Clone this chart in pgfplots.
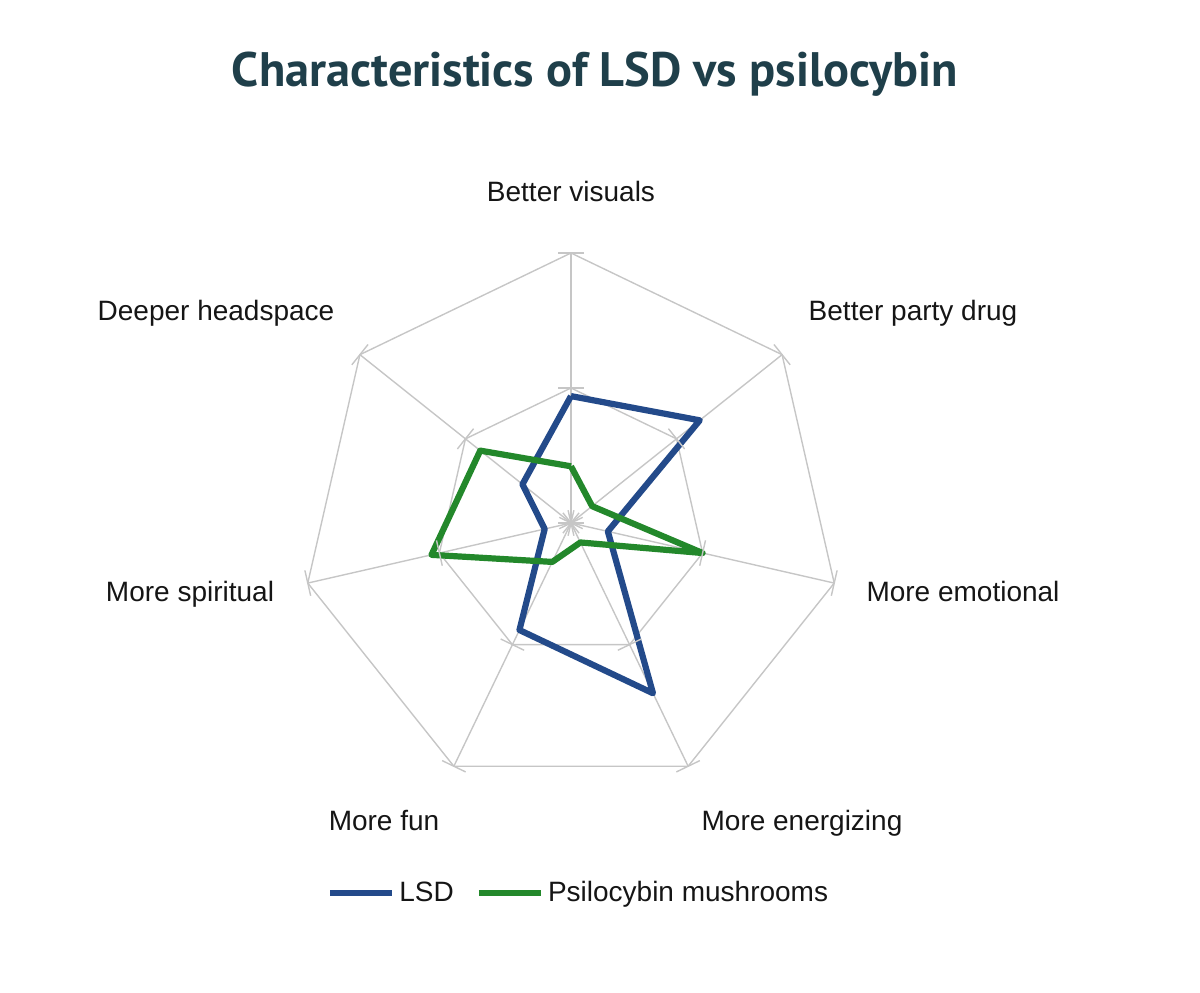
\documentclass[border=0pt]{standalone}
\usepackage{pgfplots}
\pgfplotsset{compat=1.18}
\usepgfplotslibrary{polar}
\usepackage{fontspec}
\setmainfont{Liberation Sans}
\newfontfamily\titlefont{PT Sans}
\definecolor{lsd}{HTML}{234A8A}
\definecolor{psi}{HTML}{23882B}
\definecolor{gridc}{HTML}{C6C6C6}
\definecolor{titlec}{HTML}{1F3F4A}
\definecolor{labc}{HTML}{151515}
\newcommand{\lab}{\fontsize{14}{17}\selectfont}
\begin{document}
\begin{tikzpicture}
\useasboundingbox (0,0) rectangle (600pt,496pt);
\begin{polaraxis}[
  at={(285.5pt,234.5pt)}, anchor=center,
  scale only axis, width=270pt, height=270pt,
  xmin=0, xmax=360, ymin=0, ymax=100,
  hide axis, clip=false,
  legend style={at={(0.516,-0.185)}, anchor=center, draw=none, fill=none,
    font=\lab, text=labc, legend columns=-1,
    /tikz/every even column/.append style={column sep=9pt}},
  legend image code/.code={\draw[#1] (0pt,0pt) -- (31pt,0pt);},
  gridl/.style={draw=gridc, line width=0.7pt, forget plot},
  tk/.style={gridc, line width=0.7pt, only marks, mark=|, mark size=6.5pt, forget plot},
]
% grid heptagons
\addplot[gridl] coordinates {(90,100) (38.571,100) (-12.857,100) (-64.286,100) (-115.714,100) (-167.143,100) (141.429,100) (90,100)};
\addplot[gridl] coordinates {(90,50) (38.571,50) (-12.857,50) (-64.286,50) (-115.714,50) (-167.143,50) (141.429,50) (90,50)};
% spokes
\addplot[gridl] coordinates {(90,0) (90,100)};
\addplot[gridl] coordinates {(38.571,0) (38.571,100)};
\addplot[gridl] coordinates {(-12.857,0) (-12.857,100)};
\addplot[gridl] coordinates {(-64.286,0) (-64.286,100)};
\addplot[gridl] coordinates {(-115.714,0) (-115.714,100)};
\addplot[gridl] coordinates {(-167.143,0) (-167.143,100)};
\addplot[gridl] coordinates {(141.429,0) (141.429,100)};
% tick marks
\addplot[tk, mark options={rotate=90}] coordinates {(90,0) (90,50) (90,100)};
\addplot[tk, mark options={rotate=38.571}] coordinates {(38.571,0) (38.571,50) (38.571,100)};
\addplot[tk, mark options={rotate=-12.857}] coordinates {(-12.857,0) (-12.857,50) (-12.857,100)};
\addplot[tk, mark options={rotate=-64.286}] coordinates {(-64.286,0) (-64.286,50) (-64.286,100)};
\addplot[tk, mark options={rotate=-115.714}] coordinates {(-115.714,0) (-115.714,50) (-115.714,100)};
\addplot[tk, mark options={rotate=-167.143}] coordinates {(-167.143,0) (-167.143,50) (-167.143,100)};
\addplot[tk, mark options={rotate=141.429}] coordinates {(141.429,0) (141.429,50) (141.429,100)};
% LSD
\addplot[draw=lsd, line width=3.1pt, line join=round, no markers] coordinates {
  (90,47) (38.571,61) (-12.857,14) (-64.286,70) (-115.714,44) (-167.143,10) (141.429,23) (90,47)};
\addlegendentry{LSD}
% Psilocybin
\addplot[draw=psi, line width=3.1pt, line join=round, no markers] coordinates {
  (90,21) (38.571,10) (-12.857,50) (-64.286,8) (-115.714,16) (-167.143,53) (141.429,43) (90,21)};
\addlegendentry{Psilocybin mushrooms}
\end{polaraxis}
\begin{scope}[every node/.style={font=\lab, text=labc, inner sep=0pt, anchor=base}]
\node at (285.5pt,395pt) {Better visuals};
\node at (456.5pt,335.6pt) {Better party drug};
\node at (481.5pt,195pt) {More emotional};
\node at (401pt,81pt) {More energizing};
\node at (192pt,81pt) {More fun};
\node at (95pt,195pt) {More spiritual};
\node at (108pt,335.6pt) {Deeper headspace};
\end{scope}
\node[text=titlec, inner sep=0pt, anchor=base] at (297.5pt,452.5pt) {\resizebox{363pt}{!}{\titlefont\bfseries Characteristics of LSD vs psilocybin}};
\end{tikzpicture}
\end{document}
